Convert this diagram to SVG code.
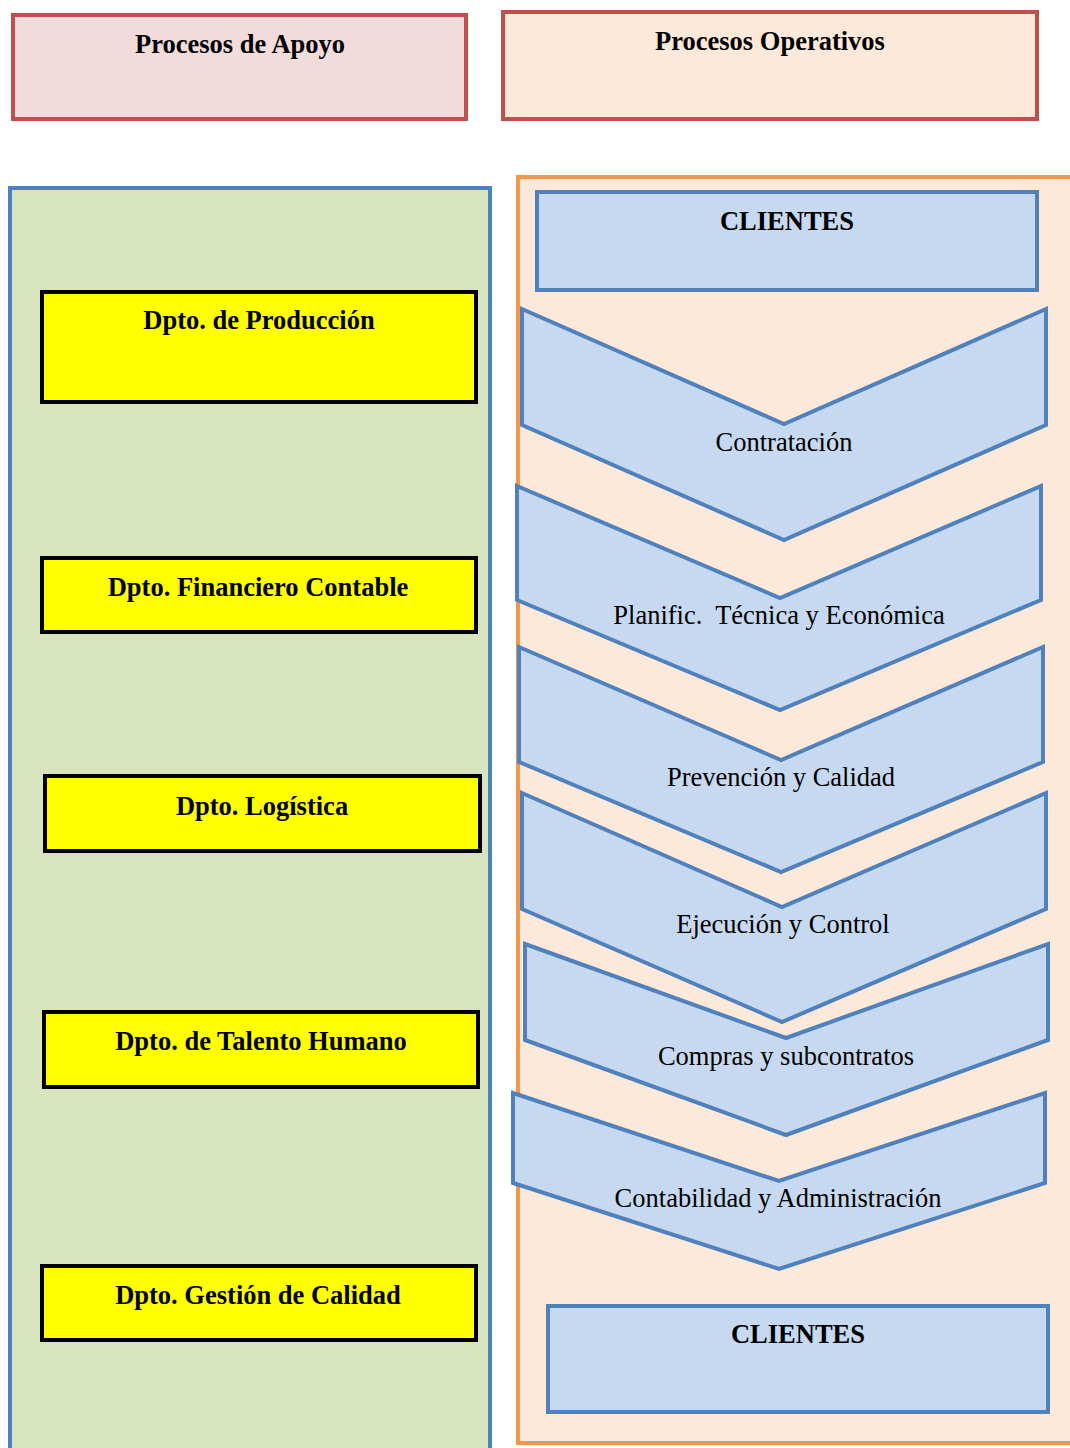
<svg xmlns="http://www.w3.org/2000/svg" width="1070" height="1448" viewBox="0 0 1070 1448">
<style>
.hdr{stroke:#C0504D;stroke-width:4}
.panel{stroke-width:4}
.dept{fill:#FFFF00;stroke:#000;stroke-width:4}
.cli{fill:#C6D9F0;stroke:#4F81BD;stroke-width:4}
.chev{fill:#C6D9F0;stroke:#4F81BD;stroke-width:4;stroke-linejoin:miter}
.tb{font-family:"Liberation Serif","Times New Roman",serif;font-weight:bold;font-size:26.5px;text-anchor:middle;fill:#000}
.tr{font-family:"Liberation Serif","Times New Roman",serif;font-size:26.5px;text-anchor:middle;fill:#000;white-space:pre}
</style>
<rect width="1070" height="1448" fill="#fff"/>
<g id="hdr-apoyo">
<rect class="hdr" x="13" y="15" width="453" height="104" fill="#F2DCDB"/>
<text class="tb" x="240" y="53">Procesos de Apoyo</text>
</g>
<g id="hdr-operativos">
<rect class="hdr" x="503" y="12" width="534" height="107" fill="#FDE9D9"/>
<text class="tb" x="770" y="50">Procesos Operativos</text>
</g>
<g id="panel-apoyo">
<rect class="panel" x="10" y="188" width="480" height="1270" fill="#D7E4BD" stroke="#4F81BD"/>
</g>
<g id="panel-operativos">
<rect class="panel" x="518" y="177" width="570" height="1266" fill="#FDE9D9" stroke="#F79646"/>
</g>
<g id="dpto-produccion">
<rect class="dept" x="42" y="292" width="434" height="110"/>
<text class="tb" x="259" y="329">Dpto. de Producción</text>
</g>
<g id="dpto-financiero">
<rect class="dept" x="42" y="558" width="434" height="74"/>
<text class="tb" x="258" y="596">Dpto. Financiero Contable</text>
</g>
<g id="dpto-logistica">
<rect class="dept" x="45" y="776" width="435" height="75"/>
<text class="tb" x="262" y="815">Dpto. Logística</text>
</g>
<g id="dpto-talento">
<rect class="dept" x="44" y="1012" width="434" height="75"/>
<text class="tb" x="261" y="1050">Dpto. de Talento Humano</text>
</g>
<g id="dpto-calidad">
<rect class="dept" x="42" y="1266" width="434" height="74"/>
<text class="tb" x="258" y="1304">Dpto. Gestión de Calidad</text>
</g>
<g id="clientes-top">
<rect class="cli" x="537" y="192" width="500" height="98"/>
<text class="tb" x="787" y="230">CLIENTES</text>
</g>
<g id="contratacion">
<polygon class="chev" points="522,309 784,424 1046,309 1046,425 784,540 522,425"/>
<text class="tr" x="784" y="451">Contratación</text>
</g>
<g id="planificacion">
<polygon class="chev" points="517,486 780,598 1041,486 1041,600 780,710 517,600"/>
<text class="tr" x="779" y="624">Planific.  Técnica y Económica</text>
</g>
<g id="prevencion">
<polygon class="chev" points="519,647 781,760 1043,647 1043,762 781,872 519,762"/>
<text class="tr" x="781" y="786">Prevención y Calidad</text>
</g>
<g id="ejecucion">
<polygon class="chev" points="522,793 782,907 1046,793 1046,909 782,1022 522,909"/>
<text class="tr" x="783" y="933">Ejecución y Control</text>
</g>
<g id="compras">
<polygon class="chev" points="525,944 786,1038 1048,944 1048,1040 786,1135 525,1040"/>
<text class="tr" x="786" y="1065">Compras y subcontratos</text>
</g>
<g id="contabilidad">
<polygon class="chev" points="513,1093 779,1181 1045,1093 1045,1183 779,1269 513,1183"/>
<text class="tr" x="778" y="1207">Contabilidad y Administración</text>
</g>
<g id="clientes-bottom">
<rect class="cli" x="548" y="1306" width="500" height="106"/>
<text class="tb" x="798" y="1343">CLIENTES</text>
</g>
<g id="connectors"></g>
</svg>
